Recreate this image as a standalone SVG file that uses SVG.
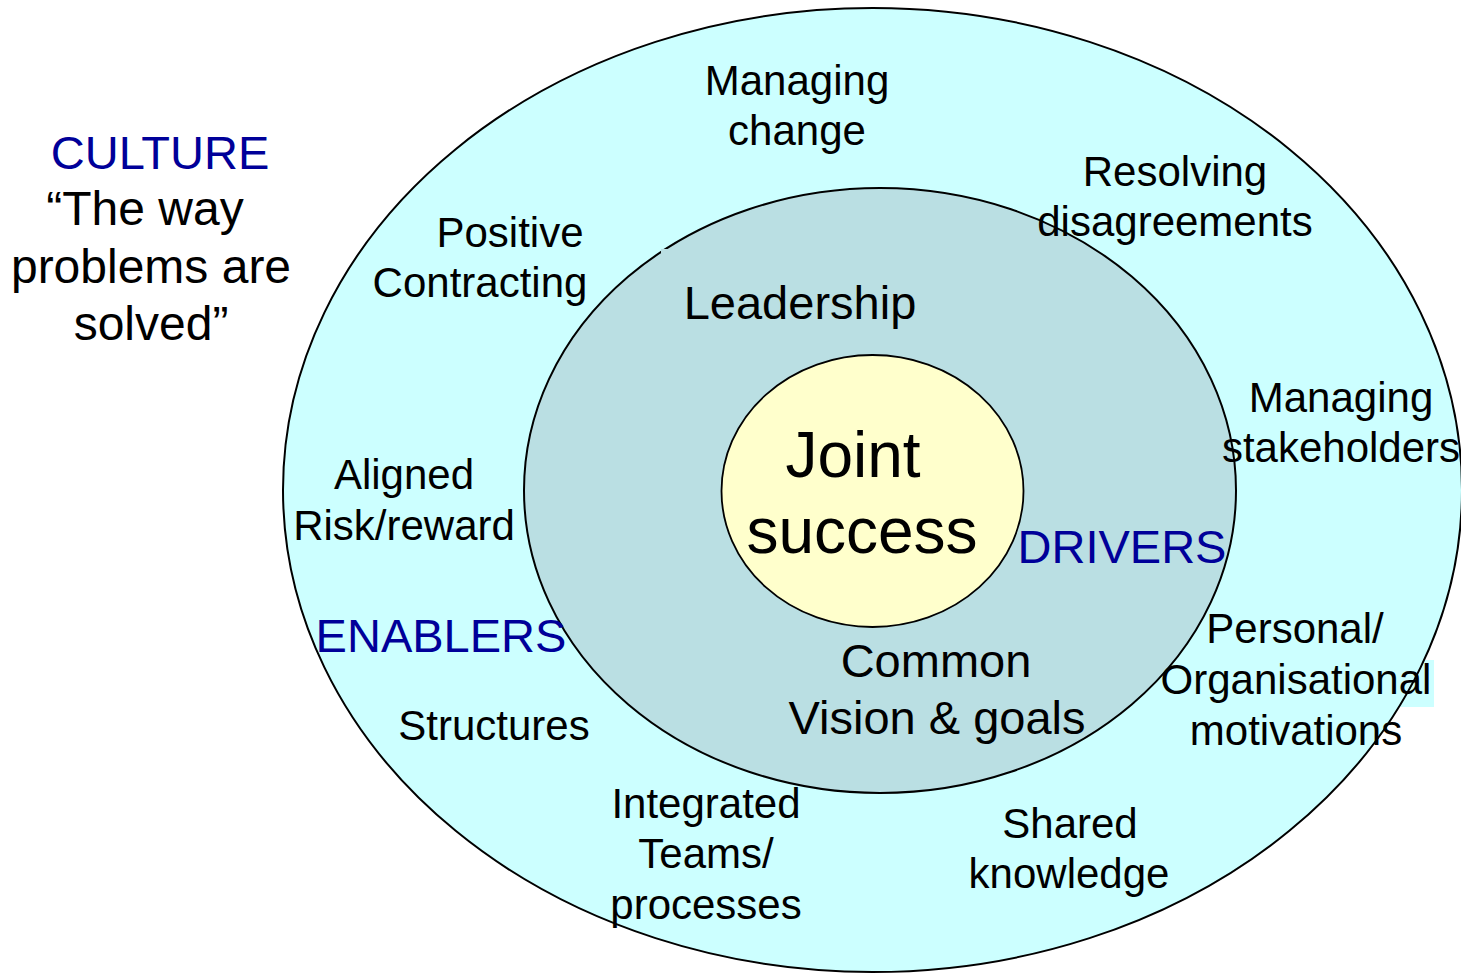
<svg xmlns="http://www.w3.org/2000/svg" width="1461" height="974" viewBox="0 0 1461 974">
<style>
  text { font-family: "Liberation Sans", Arial, sans-serif; fill: #000; text-anchor: middle; }
  .s42 { font-size: 42px; }
  .s47 { font-size: 47px; }
  .s48 { font-size: 48px; }
  .big { font-size: 64px; }
  .blue { fill: #000099; }
  .ring { stroke: #000; stroke-width: 2; }
</style>
<rect x="0" y="0" width="1461" height="974" fill="#FFFFFF"/>
<g id="culture-ring">
  <ellipse cx="872.5" cy="490" rx="589.5" ry="482" fill="#CCFFFF"/>
  <rect x="1160" y="660" width="274" height="47" fill="#CCFFFF"/>
  <ellipse cx="872.5" cy="490" rx="589.5" ry="482" fill="none" class="ring"/>
</g>
<g id="middle-ring">
  <ellipse cx="880" cy="490.5" rx="356" ry="302.5" fill="#BADFE3" class="ring"/>
  <rect x="661" y="249" width="9" height="6" fill="#BADFE3"/>
</g>
<g id="core">
  <ellipse cx="872.5" cy="491" rx="151" ry="136" fill="#FFFFCC" stroke="#000" stroke-width="1.8"/>
  <text class="big" x="853" y="477">Joint</text>
  <text class="big" x="862" y="553">success</text>
</g>
<g id="culture-label">
  <text class="s47 blue" x="160" y="169">CULTURE</text>
  <text class="s48" x="145" y="225">“The way</text>
  <text class="s48" x="151" y="283">problems are</text>
  <text class="s48" x="151" y="340">solved”</text>
</g>
<g id="managing-change"><text class="s42" x="797" y="95">Managing</text><text class="s42" x="797" y="145">change</text></g>
<g id="resolving"><text class="s42" x="1175" y="186">Resolving</text><text class="s42" x="1175" y="236">disagreements</text></g>
<g id="positive-contracting"><text class="s42" x="510" y="247">Positive</text><text class="s42" x="480" y="297">Contracting</text></g>
<g id="leadership"><text class="s47" x="800" y="319">Leadership</text></g>
<g id="managing-stakeholders"><text class="s42" x="1341" y="412">Managing</text><text class="s42" x="1341" y="462">stakeholders</text></g>
<g id="aligned"><text class="s42" x="404" y="489">Aligned</text><text class="s42" x="404" y="540">Risk/reward</text></g>
<g id="drivers"><text class="s47 blue" x="1122" y="563">DRIVERS</text></g>
<g id="enablers"><text class="s47 blue" x="441" y="652">ENABLERS</text></g>
<g id="common-vision"><text class="s47" x="936" y="677">Common</text><text class="s47" x="937" y="734">Vision &amp; goals</text></g>
<g id="motivations"><text class="s42" x="1295" y="643">Personal/</text><text class="s42" x="1296" y="694">Organisational</text><text class="s42" x="1296" y="745">motivations</text></g>
<g id="structures"><text class="s42" x="494" y="740">Structures</text></g>
<g id="integrated"><text class="s42" x="706" y="818">Integrated</text><text class="s42" x="706" y="868">Teams/</text><text class="s42" x="706" y="919">processes</text></g>
<g id="shared-knowledge"><text class="s42" x="1070" y="838">Shared</text><text class="s42" x="1069" y="888">knowledge</text></g>
<g id="connectors"></g>
</svg>
